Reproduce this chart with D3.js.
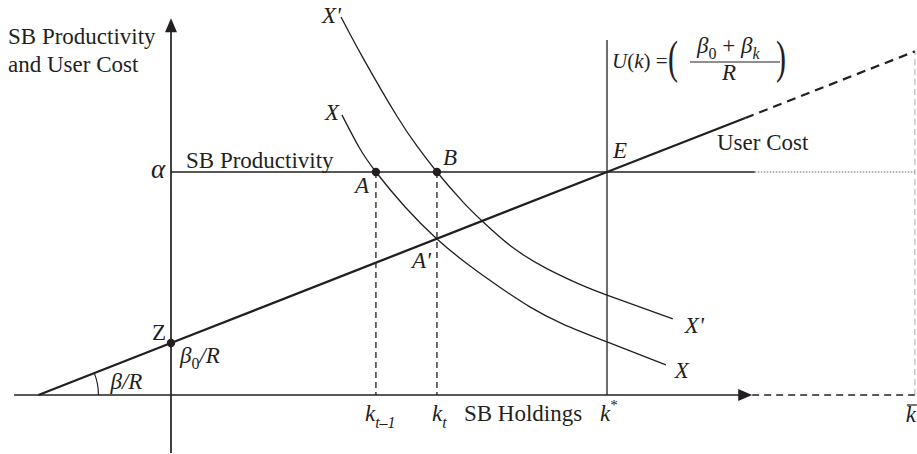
<!DOCTYPE html>
<html><head><meta charset="utf-8">
<script src="https://cdn.jsdelivr.net/npm/d3@7"></script>
<style>
html,body{margin:0;padding:0;background:#fff;}
svg{display:block;}
text{font-family:"Liberation Serif","Times New Roman",serif;fill:#231f20;}
</style></head><body>
<svg id="chart" width="917" height="454"></svg>
<script>
// Holdings (k) and value levels of the key positions
const kPrev = 4.70, kNow = 6.10, kStar = 10, kBar = 17.06;
const alpha = 10;
const kAxisMin = -3.6, kArrow = 13.33;
const vAxisMin = -2.6, vArrow = 16.9;
const alphaSolidEnd = 13.39;
const kStarTop = 15.92;

// User cost line U(k): root, Z, E, end of the solid part; then the dashed extension
const userCostSolid = [[-3.04, 0], [0, 2.33], [10, 10], [13.17, 12.42]];
const userCostExt = [[13.17, 12.42], [17.06, 15.41]];

// Productivity schedules X and X'
const curveX = [[3.92,12.56],[4.31,11.12],[4.70,10.00],[5.37,8.43],[6.10,7.00],[6.86,5.78],[7.55,4.82],[8.23,3.95],[8.99,3.18],[10.00,2.38],[11.35,1.35]];
const curveXp = [[3.90,16.95],[4.40,15.13],[5.18,12.51],[5.64,11.17],[6.10,10.00],[6.70,8.65],[7.16,7.76],[7.84,6.61],[8.62,5.67],[9.38,4.96],[10.00,4.48],[11.51,3.41]];

// Marked points Z, A, B
const dots = [[0, 2.33], [kPrev, alpha], [kNow, alpha]];

const svg = d3.select("#chart");
const x = d3.scaleLinear().domain([0, 10]).range([171, 607]);
const y = d3.scaleLinear().domain([0, 10]).range([395, 172]);
const ink = "#231f20";
const line = d3.line().x(d => x(d[0])).y(d => y(d[1]));
const smooth = d3.line().x(d => x(d[0])).y(d => y(d[1])).curve(d3.curveNatural);

function seg(p, q, w, dash, color) {
  svg.append("line")
    .attr("x1", x(p[0])).attr("y1", y(p[1]))
    .attr("x2", x(q[0])).attr("y2", y(q[1]))
    .attr("stroke", color || ink).attr("stroke-width", w)
    .attr("stroke-dasharray", dash || null);
}

// Right-hand boundary k-bar
seg([kBar, 0], [kBar, 15.41], 1.5, "6,4", "#c8c8c8");

// Axes
seg([kAxisMin, 0], [kArrow - 0.3, 0], 1.7);
seg([kArrow, 0], [kBar, 0], 1.4, "7,5");
seg([0, vAxisMin], [0, vArrow - 0.5], 1.7);
const tipX = [x(kArrow), y(0)], tipY = [x(0), y(vArrow)];
svg.append("path").attr("fill", ink)
  .attr("d", `M${tipX[0]},${tipX[1]}L${tipX[0]-14},${tipX[1]-6}L${tipX[0]-14},${tipX[1]+6}Z`);
svg.append("path").attr("fill", ink)
  .attr("d", `M${tipY[0]},${tipY[1]}L${tipY[0]-6},${tipY[1]+14}L${tipY[0]+6},${tipY[1]+14}Z`);

// Productivity level alpha
seg([0, alpha], [alphaSolidEnd, alpha], 1.3);
seg([alphaSolidEnd, alpha], [kBar, alpha], 1, "1.5,1.5", "#666");

// k* vertical
seg([kStar, 0], [kStar, kStarTop], 1.3);

// Dashed drops from A and B
seg([kPrev, alpha], [kPrev, 0], 1.3, "6,4");
seg([kNow, alpha], [kNow, 0], 1.3, "6,4");

// Schedules
svg.append("path").datum(curveX).attr("d", smooth).attr("fill", "none").attr("stroke", ink).attr("stroke-width", 1.3);
svg.append("path").datum(curveXp).attr("d", smooth).attr("fill", "none").attr("stroke", ink).attr("stroke-width", 1.3);

// User cost
svg.append("path").datum(userCostSolid).attr("d", line).attr("fill", "none").attr("stroke", ink).attr("stroke-width", 2.3);
svg.append("path").datum(userCostExt).attr("d", line).attr("fill", "none").attr("stroke", ink).attr("stroke-width", 2.2).attr("stroke-dasharray", "9,6");

// Angle arc at the root of the user cost line
const root = [x(userCostSolid[0][0]), y(0)];
const ang = Math.atan2(y(0) - y(userCostSolid[1][1]), x(0) - root[0]);
const r = 60;
svg.append("path").attr("fill", "none").attr("stroke", ink).attr("stroke-width", 1.2)
  .attr("d", `M${root[0]+r},${root[1]}A${r},${r} 0 0 0 ${root[0]+r*Math.cos(ang)},${root[1]-r*Math.sin(ang)}`);

// Dots
svg.selectAll("circle.pt").data(dots).join("circle")
  .attr("cx", d => x(d[0])).attr("cy", d => y(d[1])).attr("r", 4.2).attr("fill", ink);

// Text helpers
function label(px, py, str, opts) {
  opts = opts || {};
  return svg.append("text").attr("x", px).attr("y", py)
    .attr("font-size", opts.size || 23)
    .attr("font-style", opts.italic ? "italic" : null)
    .attr("text-anchor", opts.anchor || null)
    .text(str);
}
function sub(t, str, size, dy, italic) {
  t.append("tspan").attr("font-size", size).attr("dy", dy)
    .attr("font-style", italic ? "italic" : "normal").text(str);
}

// Axis titles
label(8, 44, "SB Productivity");
label(8, 72, "and User Cost");
label(x(0) + 15, y(alpha) - 4, "SB Productivity");
label(717, 150, "User Cost");
label(x(kNow) + 27, y(0) + 26, "SB Holdings");

// Alpha
label(x(0) - 20, y(alpha) + 6, "α", {italic: true, size: 27});

// Point labels
label(x(0) - 19, y(2.33) - 3, "Z");
label(x(kPrev) - 21, y(alpha) + 21, "A", {italic: true});
label(x(kNow) + 6, y(alpha) - 7, "B", {italic: true});
label(x(kNow) - 25, y(7.0) + 29, "A'", {italic: true});
label(x(kStar) + 6, y(alpha) - 14, "E", {italic: true});
label(x(curveX[0][0]) - 17, y(curveX[0][1]) + 5, "X", {italic: true});
label(x(curveXp[0][0]) - 19, y(curveXp[0][1]) + 6, "X'", {italic: true});
label(x(curveX[curveX.length-1][0]) + 9, y(curveX[curveX.length-1][1]) + 13, "X", {italic: true});
label(x(curveXp[curveXp.length-1][0]) + 12, y(curveXp[curveXp.length-1][1]) + 14, "X'", {italic: true});

// beta0 / R and beta / R
let t = label(x(0) + 9, y(2.33) + 20, "β", {italic: true});
sub(t, "0", 16, 6, false);
t.append("tspan").attr("dy", -6).attr("font-style", "italic").text("/R");
label(root[0] + 72, root[1] - 6, "β/R", {italic: true});

// k labels
t = label(x(kPrev) - 11, y(0) + 26, "k", {italic: true});
sub(t, "t–1", 16, 7, true);
t = label(x(kNow) - 5, y(0) + 26, "k", {italic: true});
sub(t, "t", 16, 7, true);
t = label(x(kStar) - 7, y(0) + 26, "k", {italic: true});
sub(t, "*", 15, -11, false);
label(x(kBar) - 9, y(0) + 27, "k", {italic: true});
svg.append("line").attr("x1", x(kBar) - 8).attr("x2", x(kBar) + 2)
  .attr("y1", y(0) + 10).attr("y2", y(0) + 10).attr("stroke", ink).attr("stroke-width", 1.2);

// U(k) formula
t = label(x(kStar) + 5, 68, "", {size: 21});
t.append("tspan").attr("font-style", "italic").text("U");
t.append("tspan").text("(");
t.append("tspan").attr("font-style", "italic").text("k");
t.append("tspan").text(") =");
svg.append("text").attr("transform", "translate(668,73) scale(0.75,1.15)").attr("font-size", 40).text("(");
t = label(697, 53, "β", {italic: true});
sub(t, "0", 16, 6, false);
t.append("tspan").attr("dy", -6).attr("font-style", "normal").text(" + ");
t.append("tspan").attr("font-style", "italic").text("β");
sub(t, "k", 16, 6, true);
svg.append("line").attr("x1", 690).attr("x2", 780).attr("y1", 62).attr("y2", 62).attr("stroke", ink).attr("stroke-width", 1.2);
label(729, 80, "R", {italic: true, anchor: "middle"});
svg.append("text").attr("transform", "translate(776,73) scale(0.75,1.15)").attr("font-size", 40).text(")");
</script>
</body></html>
